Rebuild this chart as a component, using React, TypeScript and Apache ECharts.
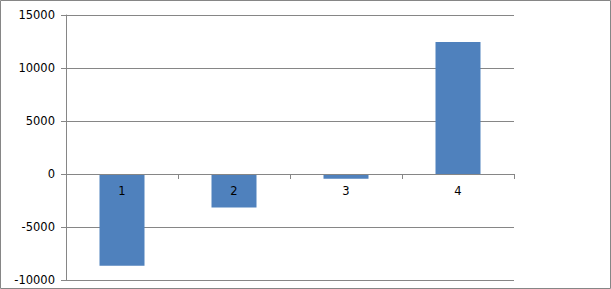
import React, { useEffect, useRef } from "react";
import * as echarts from "echarts";

const categories = ["1", "2", "3", "4"];
const values = [-8650, -3150, -450, 12450];
const yMin = -10000;
const yMax = 15000;
const yInterval = 5000;

export default function App() {
  const ref = useRef<HTMLDivElement>(null);
  useEffect(() => {
    document.body.style.margin = "0";
    const chart = echarts.init(ref.current!, null, { renderer: "svg" });
    const gray = "#868686";
    const gridTop = 15;
    const gridBottom = 9;
    const plotH = 289 - gridTop - gridBottom;
    const zeroOffset = -plotH * ((0 - yMin) / (yMax - yMin));
    chart.setOption({
      animation: false,
      backgroundColor: "#ffffff",
      textStyle: { fontFamily: "DejaVu Sans" },
      graphic: [
        {
          type: "rect",
          shape: { x: 0.5, y: 0.5, width: 610, height: 288 },
          style: { fill: "none", stroke: gray, lineWidth: 1 },
          silent: true,
        },
      ],
      grid: { left: 66, right: 97, top: gridTop, bottom: gridBottom, containLabel: false, outerBoundsMode: "none" },
      xAxis: {
        type: "category",
        data: categories,
        boundaryGap: true,
        position: "bottom",
        offset: zeroOffset,
        z: 5,
        axisLine: { onZero: false, lineStyle: { color: gray, width: 1 } },
        axisTick: { show: true, length: 5, inside: false, alignWithLabel: false, lineStyle: { color: gray } },
        axisLabel: { color: "#000", fontSize: 11.5, margin: 11, fontFamily: "DejaVu Sans" },
        splitLine: { show: false },
      },
      yAxis: {
        type: "value",
        min: yMin,
        max: yMax,
        interval: yInterval,
        axisLine: { show: true, lineStyle: { color: gray, width: 1 } },
        axisTick: { show: true, length: 5, lineStyle: { color: gray } },
        axisLabel: {
          color: "#000",
          fontSize: 11.5,
          margin: 11,
          fontFamily: "DejaVu Sans",
          formatter: (v: number) => String(v),
        },
        splitLine: { show: true, lineStyle: { color: gray, width: 1 } },
      },
      series: [
        {
          type: "bar",
          data: values,
          barWidth: 45,
          z: 2,
          itemStyle: { color: "#4f81bd" },
        },
      ],
    });
    return () => chart.dispose();
  }, []);
  return <div ref={ref} style={{ width: 611, height: 289 }} />;
}
